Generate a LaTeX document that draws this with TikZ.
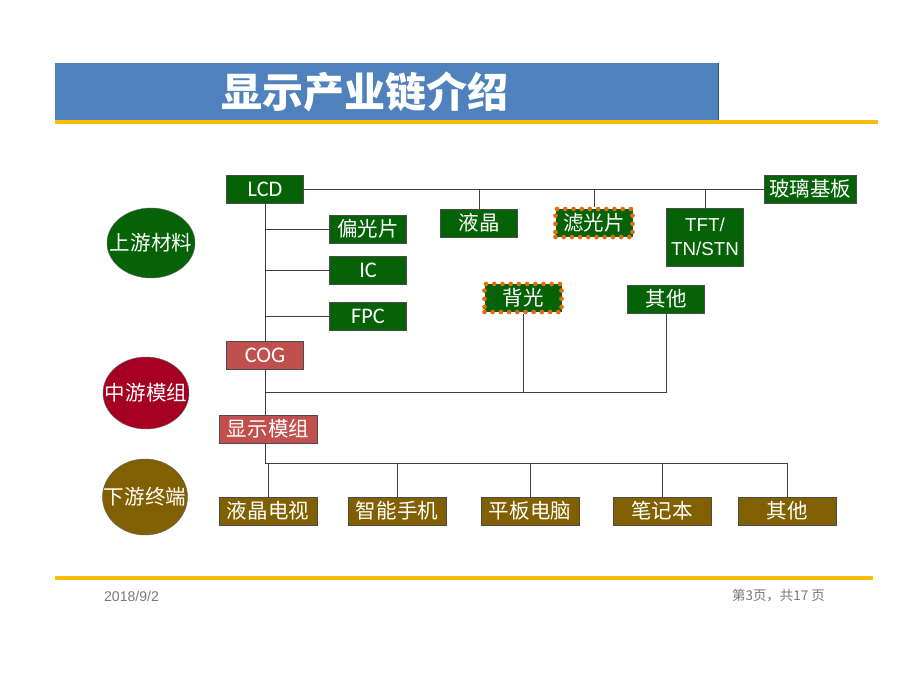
\documentclass[tikz,border=0pt]{standalone}
\usepackage{fontspec}
\setmainfont{Noto Sans CJK SC}
\newfontfamily\latinfont{Carlito}
\newfontfamily\arialfont{Liberation Sans}
\usetikzlibrary{positioning,shapes.geometric}
\definecolor{titleblue}{RGB}{79,129,189}
\definecolor{lineyellow}{RGB}{250,190,10}
\definecolor{upgreen}{RGB}{6,98,6}
\definecolor{cogred}{RGB}{192,80,77}
\definecolor{midred}{RGB}{165,0,33}
\definecolor{downbrown}{RGB}{128,96,0}
\definecolor{dotorange}{RGB}{228,108,10}
\definecolor{footgray}{RGB}{120,120,120}
\tikzstyle{upstream-box} = [rectangle, minimum width=2.31cm, minimum height=0.84cm, inner sep=1pt, text centered, draw=black!70, fill=upgreen, text=white, font=\fontsize{17.5}{19}\selectfont]
\tikzstyle{dotted-box} = [upstream-box, draw=dotorange, line width=4pt, line cap=round, dash pattern=on 0pt off 7pt]
\tikzstyle{midstream-box} = [upstream-box, fill=cogred]
\tikzstyle{downstream-box} = [upstream-box, fill=downbrown, minimum width=2.94cm]
\tikzstyle{stage-circle} = [ellipse, inner sep=0pt, draw=black!60, text=white, font=\fontsize{17.5}{19}\selectfont]
\tikzstyle{link} = [draw=black!75, line width=0.7pt]

\begin{document}
\begin{tikzpicture}[x=0.03cm, y=-0.03cm]
        \useasboundingbox (0,0) rectangle (920,690);
        % title bar
        \fill [titleblue] (55,63) rectangle (718,120);
        \draw [titleblue!60!black, line width=0.6pt] (718,63) -- (718,120);
        \fill [lineyellow] (55,120) rectangle (878,124);
        \node (title) [text=white, font=\fontsize{35}{37}\selectfont\bfseries] at (365,92) {显示产业链介绍};
        % footer
        \fill [lineyellow] (55,576) rectangle (873,580);
        \node (date) [anchor=west, text=footgray, font=\arialfont\fontsize{12}{13}\selectfont] at (100,596) {2018/9/2};
        \node (page) [anchor=east, text=footgray, font=\fontsize{11.5}{13}\selectfont] at (829,596) {第3页，共17 页};

        % stages
        \node (upstream) [stage-circle, fill=upgreen, minimum width=2.64cm, minimum height=2.1cm] at (151,243) {\makebox[0pt]{上游材料}};
        \node (midstream) [stage-circle, fill=midred, minimum width=2.58cm, minimum height=2.16cm] at (146,393) {\makebox[0pt]{中游模组}};
        \node (downstream) [stage-circle, fill=downbrown, minimum width=2.55cm, minimum height=2.28cm] at (145,497) {\makebox[0pt]{下游终端}};

        % upstream materials
        \node (lcd) [upstream-box, font=\latinfont\fontsize{19}{20}\selectfont] at (265,189) {LCD};
        \node (glass) [upstream-box, minimum width=2.76cm] at (810,189) {玻璃基板};
        \node (liquid-crystal) [upstream-box] at (479,223) {液晶};
        \node (color-filter) [dotted-box] at (594,223) {滤光片};
        \node (tft) [upstream-box, minimum height=1.74cm, align=center, font=\arialfont\fontsize{16}{20}\selectfont] at (705,237) {TFT/\\TN/STN};
        \node (polarizer) [upstream-box] at (368,229) {偏光片};
        \node (ic) [upstream-box, font=\latinfont\fontsize{19}{20}\selectfont] at (368,270) {IC};
        \node (fpc) [upstream-box, font=\latinfont\fontsize{19}{20}\selectfont] at (368,316) {FPC};
        \node (backlight) [dotted-box] at (523,298) {背光};
        \node (other-up) [upstream-box] at (666,299) {其他};

        % midstream modules
        \node (cog) [midstream-box, font=\latinfont\fontsize{19}{20}\selectfont] at (265,355) {COG};
        \node (module) [midstream-box, minimum width=2.94cm] at (268,429) {显示模组};

        % downstream terminals
        \node (tv) [downstream-box] at (268,511) {液晶电视};
        \node (phone) [downstream-box] at (397,511) {智能手机};
        \node (tablet) [downstream-box] at (530,511) {平板电脑};
        \node (laptop) [downstream-box] at (662,511) {笔记本};
        \node (other-low) [downstream-box] at (787,511) {其他};

        \coordinate (mid-bus) at (265,392);
        \coordinate (low-bus) at (265,463);

        \draw [link] (lcd) -- (glass);
        \foreach \n in {liquid-crystal,color-filter,tft}
            \draw [link] (\n.north) -- (\n.north |- lcd.east);
        \draw [link] (lcd) -- (cog);
        \foreach \n in {polarizer,ic,fpc}
            \draw [link] (lcd.south |- \n.west) -- (\n.west);
        \draw [link] (cog) -- (cog |- module.north);
        \draw [link] (backlight.south) -- (backlight.south |- mid-bus);
        \draw [link] (other-up.south) |- (mid-bus);
        \draw [link] (module.south -| low-bus) -- (low-bus);
        \foreach \n in {tv,phone,tablet,laptop,other-low}
            \draw [link] (low-bus) -| (\n.north);
    \end{tikzpicture}
\end{document}
